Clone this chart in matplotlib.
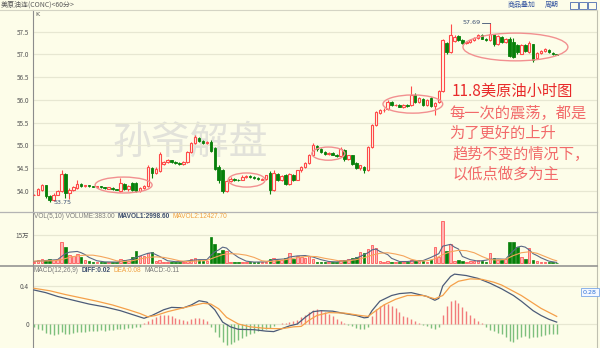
import numpy as np
import matplotlib.pyplot as plt
from matplotlib.patches import Ellipse, Rectangle
from matplotlib.lines import Line2D

# ---- data (60-minute candles) ----
opens = [53.92, 53.92, 54.03, 54.12, 53.88, 53.80, 53.92, 54.00, 54.38, 53.96,
         54.02, 54.07, 54.16, 54.10, 54.12, 54.10, 54.08, 54.10, 54.08, 54.05,
         54.07, 54.04, 54.00, 54.16, 54.05, 54.18, 54.17, 54.00, 54.06, 54.10,
         54.50, 54.40, 54.44, 54.60, 54.64, 54.67, 54.64, 54.62, 54.60, 54.64,
         54.86, 55.05, 55.17, 55.10, 55.06, 55.08, 54.95, 54.52, 54.45, 54.00,
         54.22, 54.26, 54.24, 54.24, 54.31, 54.33, 54.30, 54.28, 54.25, 54.26,
         54.40, 54.03, 54.38, 54.25, 54.35, 54.16, 54.36, 54.25, 54.45, 54.52,
         54.62, 54.80, 54.98, 54.92, 54.86, 54.82, 54.84, 54.80, 54.76, 54.90,
         54.70, 54.78, 54.62, 54.50, 54.52, 54.45, 54.97, 55.45, 55.72, 55.78,
         55.80, 55.95, 55.88, 55.90, 55.85, 55.90, 55.88, 56.12, 55.96, 56.02,
         55.88, 56.04, 55.86, 55.95, 56.20, 57.25, 57.05, 57.30, 57.40, 57.32,
         57.25, 57.28, 57.31, 57.36, 57.42, 57.35, 57.32, 57.44, 57.22, 57.38,
         57.28, 57.34, 57.28, 57.20, 57.02, 57.20, 57.06, 57.22, 56.92, 57.04,
         57.08, 57.10, 57.04, 57.00]
highs = [53.93, 54.07, 54.16, 54.14, 53.90, 53.95, 54.03, 54.47, 54.40, 54.06,
         54.10, 54.24, 54.18, 54.14, 54.13, 54.11, 54.11, 54.11, 54.09, 54.09,
         54.08, 54.05, 54.29, 54.18, 54.12, 54.20, 54.19, 54.09, 54.12, 54.56,
         54.52, 54.52, 54.86, 54.66, 54.70, 54.69, 54.66, 54.64, 54.66, 54.88,
         55.07, 55.23, 55.19, 55.12, 55.10, 55.12, 54.97, 54.56, 54.48, 54.25,
         54.30, 54.28, 54.26, 54.34, 54.35, 54.35, 54.32, 54.30, 54.29, 54.36,
         54.44, 54.46, 54.40, 54.36, 54.37, 54.40, 54.38, 54.47, 54.55, 54.64,
         54.82, 55.06, 55.00, 54.95, 54.88, 54.86, 54.86, 54.82, 54.96, 54.92,
         54.80, 54.80, 54.64, 54.58, 54.54, 54.99, 55.47, 55.75, 55.80, 55.82,
         56.00, 55.97, 55.92, 55.91, 55.92, 55.92, 56.30, 56.15, 56.06, 56.04,
         56.02, 56.06, 55.96, 56.22, 57.35, 57.28, 57.66, 57.42, 57.42, 57.34,
         57.30, 57.33, 57.38, 57.44, 57.44, 57.37, 57.69, 57.46, 57.42, 57.40,
         57.36, 57.38, 57.36, 57.24, 57.22, 57.22, 57.30, 57.24, 57.06, 57.10,
         57.14, 57.11, 57.05, 57.02]
lows = [53.91, 53.90, 54.00, 53.85, 53.75, 53.78, 53.90, 53.98, 53.85, 53.82,
        54.00, 54.05, 54.08, 54.09, 54.09, 54.08, 54.07, 54.07, 54.05, 54.04,
        54.03, 54.01, 53.98, 54.02, 54.00, 53.99, 53.97, 53.98, 54.04, 54.08,
        54.29, 54.38, 54.42, 54.56, 54.62, 54.62, 54.60, 54.58, 54.58, 54.62,
        54.84, 55.03, 55.08, 55.04, 55.03, 54.85, 54.45, 54.18, 53.95, 53.97,
        54.20, 54.22, 54.21, 54.23, 54.28, 54.28, 54.27, 54.25, 54.23, 54.24,
        53.93, 54.00, 54.22, 54.22, 54.13, 54.14, 54.22, 54.23, 54.42, 54.50,
        54.60, 54.78, 54.88, 54.84, 54.80, 54.80, 54.78, 54.74, 54.74, 54.66,
        54.68, 54.58, 54.48, 54.46, 54.40, 54.43, 54.95, 55.43, 55.70, 55.74,
        55.78, 55.86, 55.86, 55.84, 55.83, 55.85, 55.86, 55.94, 55.94, 55.86,
        55.86, 55.84, 55.66, 55.93, 56.18, 57.00, 57.03, 57.28, 57.30, 57.24,
        57.23, 57.26, 57.29, 57.34, 57.33, 57.29, 57.30, 57.19, 57.20, 57.26,
        57.26, 56.94, 56.92, 57.02, 57.00, 57.06, 57.04, 56.84, 56.90, 57.02,
        57.06, 57.04, 56.99, 56.98]
closes = [53.92, 54.05, 54.14, 53.88, 53.80, 53.92, 54.00, 54.38, 53.96, 54.03,
          54.08, 54.15, 54.10, 54.12, 54.10, 54.09, 54.10, 54.08, 54.06, 54.08,
          54.04, 54.02, 54.18, 54.05, 54.10, 54.02, 53.99, 54.07, 54.10, 54.52,
          54.40, 54.48, 54.82, 54.64, 54.67, 54.64, 54.62, 54.60, 54.64, 54.86,
          55.05, 55.18, 55.10, 55.06, 55.08, 54.88, 54.48, 54.25, 54.00, 54.22,
          54.26, 54.24, 54.23, 54.31, 54.33, 54.30, 54.28, 54.26, 54.27, 54.34,
          54.03, 54.40, 54.25, 54.33, 54.16, 54.38, 54.25, 54.45, 54.52, 54.62,
          54.80, 55.00, 54.92, 54.86, 54.82, 54.84, 54.80, 54.76, 54.93, 54.70,
          54.78, 54.60, 54.50, 54.56, 54.45, 54.97, 55.45, 55.73, 55.78, 55.79,
          55.95, 55.88, 55.90, 55.85, 55.90, 55.86, 56.10, 55.96, 56.04, 55.88,
          56.00, 55.86, 55.94, 56.20, 57.32, 57.05, 57.42, 57.38, 57.32, 57.26,
          57.28, 57.31, 57.36, 57.42, 57.35, 57.31, 57.44, 57.22, 57.40, 57.28,
          57.34, 56.97, 56.95, 57.05, 57.20, 57.08, 57.26, 56.88, 57.04, 57.08,
          57.12, 57.05, 57.01, 56.99]
# volume in thousands of contracts
volumes = [8, 15, 20, 18, 22, 15, 20, 111, 87, 45, 35, 50, 30, 15, 10, 8, 5, 5, 4, 5,
           4, 5, 20, 15, 12, 30, 66, 35, 40, 55, 59, 10, 15, 6, 5, 5, 4, 5, 8, 10,
           20, 25, 15, 10, 12, 138, 100, 55, 70, 66, 6, 4, 5, 6, 4, 3, 4, 3, 5, 8,
           20, 25, 15, 18, 25, 55, 20, 35, 30, 25, 35, 20, 6, 5, 4, 4, 5, 6, 15, 15,
           20, 25, 30, 60, 55, 75, 96, 80, 10, 8, 10, 6, 5, 6, 5, 8, 15, 12, 10, 12,
           8, 15, 87, 30, 227, 64, 100, 12, 15, 10, 8, 10, 12, 15, 10, 8, 53, 25, 18, 15,
           20, 112, 112, 87, 30, 20, 80, 15, 10, 8, 6, 5, 4, 0.383]
volumes = [v * 1000 for v in volumes]
# moving average lines of volume, (bar index, value in thousands)
mavol1_idx = [0, 4, 6, 7, 8, 9, 11, 12, 13, 14, 16, 18, 21, 23, 25, 26, 28, 29, 30, 31,
              32, 34, 36, 38, 40, 42, 44, 45, 46, 47, 48, 49, 50, 51, 52, 54, 56, 59, 61, 64,
              65, 67, 69, 71, 73, 75, 77, 79, 81, 83, 84, 85, 86, 87, 88, 90, 91, 93, 95, 97,
              99, 101, 102, 103, 104, 105, 106, 107, 108, 109, 111, 113, 115, 116, 118, 120, 121, 122, 123, 124,
              125, 126, 127, 128, 129, 131, 133]
mavol1_val = [8, 15, 18, 35, 50, 58, 62, 55, 45, 30, 12, 6, 5, 12, 20, 30, 45, 52, 55, 45,
              35, 12, 7, 8, 14, 18, 18, 40, 60, 70, 85, 80, 60, 45, 30, 10, 5, 6, 18, 22,
              32, 38, 40, 32, 18, 8, 6, 12, 18, 35, 45, 55, 70, 75, 62, 45, 25, 8, 8, 12,
              13, 30, 40, 50, 90, 95, 100, 85, 75, 35, 18, 10, 15, 20, 22, 20, 45, 65, 85, 90,
              85, 70, 50, 40, 28, 10, 3]
mavol2_idx = [0, 5, 7, 9, 11, 13, 15, 17, 19, 21, 23, 25, 27, 29, 31, 33, 35, 37, 39, 41,
              44, 46, 48, 50, 52, 54, 56, 58, 60, 62, 64, 66, 68, 70, 72, 74, 76, 78, 80, 82,
              84, 86, 88, 90, 92, 94, 96, 98, 100, 102, 104, 106, 108, 110, 112, 114, 116, 118, 120, 122,
              124, 126, 128, 130, 132, 133]
mavol2_val = [10, 12, 18, 30, 38, 42, 42, 35, 25, 12, 8, 12, 22, 30, 33, 30, 22, 12, 8, 10,
              14, 30, 45, 50, 48, 42, 30, 12, 8, 12, 18, 25, 32, 36, 34, 25, 18, 10, 12, 18,
              28, 42, 52, 55, 48, 38, 20, 10, 12, 22, 45, 60, 68, 66, 55, 35, 18, 16, 20, 40,
              55, 60, 52, 35, 18, 12]
# MACD(12,26,9)
diff_idx = [0, 3, 6, 10, 14, 18, 22, 25, 28, 30, 33, 35, 38, 40, 42, 44, 46, 48, 50, 52,
            56, 59, 61, 63, 65, 67, 69, 71, 73, 76, 79, 82, 84, 85, 86, 88, 91, 93, 96, 98,
            100, 102, 103, 104, 106, 107, 110, 113, 116, 119, 122, 124, 127, 129, 131, 133]
diff_val = [0.358, 0.33, 0.29, 0.25, 0.21, 0.18, 0.14, 0.10, 0.06, 0.09, 0.15, 0.175, 0.17, 0.20, 0.245, 0.23, 0.15, 0.02, -0.03, -0.056,
            -0.06, -0.075, -0.08, -0.05, -0.02, 0.0, 0.07, 0.13, 0.14, 0.135, 0.11, 0.09, 0.065, 0.07, 0.14, 0.24, 0.30, 0.32, 0.33, 0.31,
            0.29, 0.25, 0.27, 0.40, 0.50, 0.525, 0.51, 0.48, 0.43, 0.37, 0.30, 0.24, 0.14, 0.09, 0.05, 0.02]
dea_idx = [0, 4, 8, 12, 16, 20, 24, 27, 29, 31, 34, 37, 40, 43, 45, 47, 49, 52, 55, 59,
           63, 66, 68, 70, 72, 75, 79, 83, 85, 87, 89, 92, 95, 99, 102, 104, 106, 108, 111, 114,
           117, 119, 124, 129, 133]
dea_val = [0.376, 0.35, 0.31, 0.275, 0.24, 0.20, 0.15, 0.11, 0.075, 0.09, 0.13, 0.16, 0.19, 0.218, 0.21, 0.16, 0.07, 0.0, -0.03, -0.046,
           -0.05, -0.03, -0.025, 0.04, 0.09, 0.12, 0.115, 0.09, 0.08, 0.14, 0.20, 0.26, 0.30, 0.30, 0.265, 0.30, 0.40, 0.45, 0.475, 0.47,
           0.44, 0.41, 0.30, 0.165, 0.08]
macd_hist = [-0.03, -0.05, -0.06, -0.09, -0.11, -0.12, -0.11, -0.08, -0.10, -0.10,
             -0.09, -0.08, -0.08, -0.08, -0.07, -0.07, -0.07, -0.06, -0.07, -0.06,
             -0.06, -0.05, -0.05, -0.05, -0.04, -0.04, -0.03, -0.03, 0.01, 0.03,
             0.05, 0.07, 0.09, 0.095, 0.09, 0.08, 0.065, 0.05, 0.04, 0.035,
             0.05, 0.06, 0.065, 0.05, 0.03, -0.03, -0.08, -0.14, -0.19, -0.22,
             -0.21, -0.19, -0.17, -0.15, -0.13, -0.11, -0.09, -0.07, -0.06, -0.05,
             -0.04, -0.02, 0.005, 0.01, 0.015, 0.02, 0.035, 0.045, 0.07, 0.10,
             0.13, 0.15, 0.155, 0.15, 0.13, 0.11, 0.08, 0.05, 0.03, 0.01,
             -0.01, -0.02, -0.04, -0.05, -0.05, -0.03, 0.08, 0.16, 0.19, 0.21,
             0.21, 0.19, 0.17, 0.13, 0.08, 0.07, 0.05, 0.035, 0.01, -0.01,
             -0.02, -0.04, -0.055, -0.03, 0.09, 0.19, 0.24, 0.25, 0.22, 0.18,
             0.14, 0.09, 0.06, 0.035, 0.01, -0.03, -0.06, -0.075, -0.09, -0.10,
             -0.14, -0.18, -0.185, -0.16, -0.14, -0.13, -0.15, -0.14, -0.135, -0.13,
             -0.12, -0.11, -0.105, -0.10]

price_ticks = [54.0, 54.5, 55.0, 55.5, 56.0, 56.5, 57.0, 57.5]
note_lines = ['11.8美原油小时图', '每一次的震荡，都是', '为了更好的上升', '趋势不变的情况下，', '以低点做多为主']
vol_header = [('VOL(5,10) VOLUME:383.00', '#7a7a7a', 'normal'), ('MAVOL1:2998.60', '#3d4e6e', 'bold'),
              ('MAVOL2:12427.70', '#f0a040', 'normal')]
macd_header = [('MACD(12,26,9)', '#7a7a7a', 'normal'), ('DIFF:0.02', '#3d4e6e', 'bold'),
               ('DEA:0.08', '#f0a040', 'normal'), ('MACD:-0.11', '#7a7a7a', 'normal')]

W, H = 600, 348
bg = '#fdfde9'
red = '#ff4a4a'
green = '#07800a'
gridc = '#e7e7d2'
cjk = ['Noto Sans CJK SC', 'DejaVu Sans']
plt.rcParams['font.family'] = ['DejaVu Sans', 'Noto Sans CJK SC']


def fx(px):
    return px / W


def fy(py):
    return 1 - py / H


fig = plt.figure(figsize=(6, 3.48), dpi=100, facecolor=bg)
ax = fig.add_axes([fx(33), fy(212), (597 - 33) / W, (212 - 10) / H], facecolor=bg)
vax = fig.add_axes([fx(33), fy(266), (597 - 33) / W, (266 - 212) / H], facecolor=bg, sharex=ax)
max_ = fig.add_axes([fx(33), fy(348), (597 - 33) / W, (348 - 266) / H], facecolor=bg, sharex=ax)

o = np.array(opens)
h = np.array(highs)
l = np.array(lows)
c = np.array(closes)
x = np.arange(len(c))
up = c >= o
dn = ~up

# candles
ax.vlines(x[up], l[up], h[up], color=red, lw=0.8, zorder=2)
ax.vlines(x[dn], l[dn], h[dn], color=green, lw=0.8, zorder=2)
ax.bar(x[up], c[up] - o[up], bottom=o[up], width=0.64, facecolor=bg, edgecolor=red, lw=0.8, zorder=3)
ax.bar(x[dn], c[dn] - o[dn], bottom=o[dn], width=0.64, facecolor=green, edgecolor=green, lw=0.6, zorder=3)

ax.set_xlim(-1 / 3.93, (597 - 34) / 3.93)
ax.set_ylim(53.537, 57.978)
ax.set_yticks(price_ticks)
ax.set_yticklabels(['%.1f' % t for t in price_ticks])
ax.grid(axis='y', color=gridc, lw=0.9, zorder=0)

# ellipses
for (cx, cy, ew, eh) in [(22.8, 54.13, 14.5, 0.35), (54.1, 54.24, 9.4, 0.31), (74.9, 54.82, 8.4, 0.29),
                         (96.4, 55.91, 15.2, 0.40), (122.5, 57.165, 26.7, 0.61)]:
    ax.add_patch(Ellipse((cx, cy), ew, eh, fill=False, ec='#f29090', lw=1.0, zorder=4))

ax.text(fx(190), fy(143), '孙爷解盘', transform=fig.transFigure, fontsize=28, color='#e2e2da',
        family=cjk, ha='center', va='center', zorder=1)

ax.annotate('53.75', (4, 53.75), xytext=(fx(53), fy(203)), textcoords='figure fraction',
            fontsize=4.6, color='#3d5272', va='center')
ax.text(fx(463), fy(23), '57.69', transform=fig.transFigure, fontsize=4.6, color='#3d5272', va='center')
ax.plot([114.1, 116], [57.69, 57.69], color='#3d5272', lw=0.6)

for i, line in enumerate(note_lines):
    ypx = [91, 113, 133, 154, 174][i]
    xpx = [452, 449, 449, 453, 453][i]
    fig.text(fx(xpx), fy(ypx), line, fontsize=11, family=cjk, va='center',
             color='#e82a2a' if i == 0 else '#f26a6a')

# volume panel
v = np.array(volumes)
vax.bar(x[up], v[up], width=0.66, facecolor='#ffb4b4', edgecolor='#ff5a5a', lw=0.6, zorder=3)
vax.bar(x[dn], v[dn], width=0.66, facecolor=green, edgecolor=green, lw=0.5, zorder=3)
vax.plot(mavol1_idx, np.array(mavol1_val) * 1000, color='#5a6886', lw=0.8, zorder=4)
vax.plot(mavol2_idx, np.array(mavol2_val) * 1000, color='#f5a55c', lw=0.8, zorder=4)
vax.set_ylim(-16000, 273000)
vax.set_yticks([150000])
vax.set_yticklabels(['15万'])
vax.grid(axis='y', color=gridc, lw=0.9, zorder=0)

# macd panel
hist = np.array(macd_hist)
pos = hist >= 0
max_.vlines(x[pos], 0, hist[pos], color='#f27b7b', lw=1.0, zorder=3)
max_.vlines(x[~pos], 0, hist[~pos], color='#7cbf7c', lw=1.0, zorder=3)
max_.plot(diff_idx, diff_val, color='#4c5b78', lw=0.9, zorder=4)
max_.plot(dea_idx, dea_val, color='#f5a04a', lw=0.9, zorder=4)
max_.set_ylim(-0.2526, 0.6105)
max_.set_yticks([0, 0.4])
max_.set_yticklabels(['0', '0.4'])
max_.grid(axis='y', color=gridc, lw=0.9, zorder=0)
max_.text(fx(590), fy(292), '0.28', transform=fig.transFigure, fontsize=4.6, color='#2b6fd6',
          ha='center', va='center',
          bbox=dict(boxstyle='square,pad=0.25', fc='#f4f8ff', ec='#7aa7e8', lw=0.6))

for a in (ax, vax, max_):
    for s in ('top', 'bottom'):
        a.spines[s].set_visible(False)
    a.spines['left'].set_color('#8c8c8c')
    a.spines['right'].set_color('#c0c0b0')
    a.tick_params(axis='y', length=0, labelsize=4.6, colors='#555555', pad=3)
    a.tick_params(axis='x', bottom=False, labelbottom=False)
    for lab in a.get_yticklabels():
        lab.set_family(cjk)

# panel separators and header bar
fig.add_artist(Line2D([0, fx(597)], [fy(10), fy(10)], color='#d4d4c4', lw=0.8))
fig.add_artist(Line2D([0, fx(597)], [fy(212), fy(212)], color='#b4b4b4', lw=0.9))
fig.add_artist(Line2D([0, fx(597)], [fy(266), fy(266)], color='#8c8c8c', lw=1.1))

fig.text(fx(1), fy(5), '美原油连(CONC)<60分>', fontsize=5, family=cjk, color='#5a5a5a', va='center')
fig.text(fx(35), fy(15), 'K', fontsize=4.6, color='#555555', va='center')
fig.text(fx(508), fy(5), '商品叠加', fontsize=5, family=cjk, color='#3555a0', va='center')
fig.text(fx(545), fy(5), '周期', fontsize=5, family=cjk, color='#3555a0', va='center')
for bx in (570, 579, 588):
    fig.add_artist(Rectangle((fx(bx), fy(9)), 8 / W, 7 / H, fill=False, ec='#4a6ab0', lw=0.6))

# indicator headers, laid out one after another
renderer = fig.canvas.get_renderer()
for parts, ypx in ((vol_header, 216.5), (macd_header, 270.5)):
    xpx = 34
    for txt, col, wt in parts:
        t = fig.text(fx(xpx), fy(ypx), txt, fontsize=4.7, color=col, weight=wt, va='center',
                     family=['Liberation Sans', 'DejaVu Sans'])
        xpx += t.get_window_extent(renderer).width + 3

fig.savefig('out.png', dpi=100, facecolor=bg)
